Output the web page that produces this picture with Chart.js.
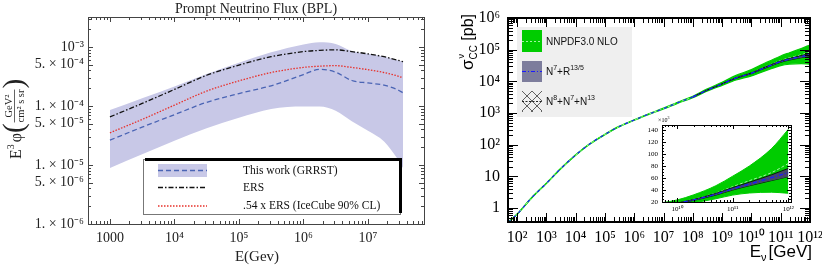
<!DOCTYPE html>
<html>
<head>
<meta charset="utf-8">
<script src="https://cdn.jsdelivr.net/npm/chart.js@4/dist/chart.umd.min.js"></script>
<style>
html, body { margin: 0; padding: 0; background: #fff; width: 822px; height: 269px; overflow: hidden; }
canvas { position: absolute; }
#flux { left: 0; top: 0; }
#xsec { left: 430px; top: 0; }
#inset { left: 630px; top: 110px; }
</style>
</head>
<body>
<canvas id="flux" width="430" height="269"></canvas>
<canvas id="xsec" width="392" height="269"></canvas>
<canvas id="inset" width="170" height="110"></canvas>
<script>
// left panel: prompt flux, E^3 phi in GeV^2 / (cm^2 s sr)
const fluxE = [1e3, 3.16e3, 1e4, 3.16e4, 1e5, 3.16e5, 1e6, 1.78e6, 3.16e6, 5.62e6, 1e7, 1.78e7, 2.8e7, 3.5e7]
const grrst = [2.63e-5, 4.37e-5, 7.1e-5, 1.15e-4, 1.62e-4, 2.19e-4, 3.39e-4, 4.17e-4, 3.72e-4, 2.69e-4, 2.45e-4, 2.24e-4, 1.9e-4, 1.66e-4]
const grrstLow = [8.9e-6, 1.51e-5, 2.57e-5, 4.17e-5, 6.3e-5, 8.9e-5, 9.8e-5, 9.8e-5, 8.3e-5, 5.5e-5, 3.8e-5, 2.5e-5, 1.32e-5, 8.9e-6]
const grrstHigh = [8.5e-5, 1.35e-4, 2.14e-4, 3.47e-4, 5.4e-4, 8.1e-4, 1.1e-3, 1.2e-3, 1.12e-3, 8.5e-4, 7.6e-4, 6.8e-4, 6.0e-4, 5.6e-4]
const ers = [6.5e-5, 1.1e-4, 1.9e-4, 3.3e-4, 4.9e-4, 6.8e-4, 8.3e-4, 8.7e-4, 8.9e-4, 8.3e-4, 7.6e-4, 6.8e-4, 6.0e-4, 5.6e-4]
const ersIceCube = [3.5e-5, 5.9e-5, 1.03e-4, 1.78e-4, 2.65e-4, 3.67e-4, 4.48e-4, 4.7e-4, 4.8e-4, 4.48e-4, 4.1e-4, 3.67e-4, 3.24e-4, 3.0e-4]
const fluxXTicks = [1e3, 1e4, 1e5, 1e6, 1e7]
const fluxXLabels = ['1000', '10⁴', '10⁵', '10⁶', '10⁷']
const fluxYTicks = [1e-6, 5e-6, 1e-5, 5e-5, 1e-4, 5e-4, 1e-3]
const fluxYLabels = ['1. × 10⁻⁶', '5. × 10⁻⁶', '1. × 10⁻⁵', '5. × 10⁻⁵', '1. × 10⁻⁴', '5. × 10⁻⁴', '10⁻³']

// right panel: nu CC cross section in pb
const xsE = [5e1, 1e2, 3e2, 1e3, 3e3, 1e4, 3e4, 1e5, 3e5, 1e6, 3e6, 1e7, 3e7, 1e8, 3e8, 1e9, 3e9, 1e10, 2e10, 5e10, 1e11, 2e11, 5e11, 1e12]
const nnpdf = [0.35, 0.63, 2.0, 6.0, 17, 47, 105, 210, 370, 600, 910, 1380, 2100, 3200, 5200, 8300, 13000, 18500, 24500, 35000, 45500, 55500, 69000, 84000]
const nnpdfLow = [0.343, 0.617, 1.96, 5.88, 16.7, 46, 103, 206, 363, 588, 892, 1340, 2020, 3040, 4840, 7470, 11000, 14800, 18800, 25400, 31500, 35000, 36300, 34500]
const nnpdfHigh = [0.36, 0.645, 2.04, 6.12, 17.3, 48, 107, 214, 378, 612, 930, 1420, 2190, 3390, 5670, 9380, 15400, 23400, 32000, 47200, 63000, 80000, 109000, 141000]
const n7E = [1e8, 3e8, 1e9, 3e9, 1e10, 2e10, 5e10, 1e11, 2e11, 5e11, 1e12]
const n7 = [3200, 5200, 8300, 12800, 18000, 23500, 33000, 42000, 50000, 60500, 69000]
const n7Low = [3168, 5140, 8180, 12500, 17460, 22680, 31520, 39900, 47000, 55660, 62100]
const n7High = [3232, 5260, 8420, 13100, 18540, 24320, 34490, 44100, 53000, 65340, 75900]
const xsXTicks = [1e2, 1e3, 1e4, 1e5, 1e6, 1e7, 1e8, 1e9, 1e10, 1e11, 1e12]
const xsXLabels = ['10²', '10³', '10⁴', '10⁵', '10⁶', '10⁷', '10⁸', '10⁹', '10¹⁰', '10¹¹', '10¹²']
const xsYTicks = [1, 10, 1e2, 1e3, 1e4, 1e5, 1e6]
const xsYLabels = ['1', '10', '10²', '10³', '10⁴', '10⁵', '10⁶']
const insetXTicks = [1e10, 1e11, 1e12]
const insetXLabels = ['10¹⁰', '10¹¹', '10¹²']
const insetYTicks = [20000, 40000, 60000, 80000, 100000, 120000, 140000]
const insetYLabels = ['20', '40', '60', '80', '100', '120', '140']

const BAND = '#c8c8e7'
const GREEN = '#00cc00'

Chart.defaults.font.family = 'Liberation Serif'
Chart.defaults.color = '#222'

const pts = (xs, ys) => xs.map((x, i) => ({ x: x, y: ys[i] }))

function fixBox(w, h) {
    return s => {
        if (w) s.width = w
        if (h) s.height = h
        s.paddingLeft = s.paddingRight = s.paddingTop = s.paddingBottom = 0
    }
}

function setTicks(vals) {
    return s => { s.ticks = vals.map(v => ({ value: v })) }
}

function logMarks(min, max) {
    const major = [], minor = []
    for (let d = Math.floor(Math.log10(min)); d <= Math.ceil(Math.log10(max)); d++) {
        for (let m = 1; m < 10; m++) {
            const v = m * Math.pow(10, d)
            if (v < min * 0.999 || v > max * 1.001) continue
            ;(m === 1 ? major : minor).push(v)
        }
    }
    return { major, minor }
}

// frame with inward ticks on all four sides
function framePlugin(o) {
    return {
        id: 'frame',
        afterDatasetsDraw(chart) {
            const { ctx, chartArea: a, scales } = chart
            ctx.save()
            ctx.strokeStyle = o.color
            ctx.lineWidth = 1
            ctx.beginPath()
            const xt = (vals, len) => vals.forEach(v => {
                const p = Math.round(scales.x.getPixelForValue(v)) + 0.5
                ctx.moveTo(p, a.bottom); ctx.lineTo(p, a.bottom - len)
                ctx.moveTo(p, a.top); ctx.lineTo(p, a.top + len)
            })
            const yt = (vals, len) => vals.forEach(v => {
                const p = Math.round(scales.y.getPixelForValue(v)) + 0.5
                ctx.moveTo(a.left, p); ctx.lineTo(a.left + len, p)
                ctx.moveTo(a.right, p); ctx.lineTo(a.right - len, p)
            })
            xt(o.x.major, o.xLen[0]); xt(o.x.minor, o.xLen[1])
            yt(o.y.major, o.yLen[0]); yt(o.y.minor, o.yLen[1])
            ctx.stroke()
            ctx.lineWidth = o.width
            const h = o.width % 2 ? 0.5 : 0
            ctx.strokeRect(Math.round(a.left) + h, Math.round(a.top) + h, Math.round(a.right - a.left), Math.round(a.bottom - a.top))
            ctx.restore()
        }
    }
}

// draws a run of [text, font, dy, gap] pieces starting at x, returns end x
function run(ctx, pieces, x, y) {
    pieces.forEach(p => {
        ctx.font = p[1]
        ctx.fillText(p[0], x, y + (p[2] || 0))
        x += ctx.measureText(p[0]).width + (p[3] || 0)
    })
    return x
}
function runWidth(ctx, pieces) {
    return pieces.reduce((w, p) => { ctx.font = p[1]; return w + ctx.measureText(p[0]).width + (p[3] || 0) }, 0)
}

// ---------- left panel ----------
const fluxText = {
    id: 'fluxText',
    afterDraw(chart) {
        const ctx = chart.ctx
        ctx.save()
        ctx.fillStyle = '#222'
        ctx.textBaseline = 'alphabetic'
        ctx.textAlign = 'center'
        ctx.font = '14px "Liberation Serif"'
        ctx.fillText('Prompt Neutrino Flux (BPL)', 256, 12.5)
        ctx.font = '15px "Liberation Serif"'
        ctx.fillText('E(Gev)', 257, 261)

        // y title, rotated
        ctx.translate(16, 119)
        ctx.rotate(-Math.PI / 2)
        ctx.textAlign = 'left'
        const big = '29px "Liberation Serif"', sm = '10.5px "Liberation Serif"'
        ctx.font = sm
        const num = 'GeV²', den = 'cm² s sr'
        const fw = Math.max(ctx.measureText(num).width, ctx.measureText(den).width) + 2
        const head = [['E', '16px "Liberation Serif"', 5], ['3', '10px "Liberation Serif"', -2, 2], ['φ', '16px "Liberation Serif"', 5]]
        ctx.font = big
        const pw = ctx.measureText('(').width
        const total = runWidth(ctx, head) + 2 * pw + fw
        let u = run(ctx, head, -total / 2, 0)
        ctx.font = big
        ctx.fillText('(', u, 7)
        u += pw
        ctx.font = sm
        ctx.textAlign = 'center'
        ctx.fillText(num, u + fw / 2, -4)
        ctx.fillText(den, u + fw / 2, 8)
        ctx.fillRect(u + 1, -1.8, fw - 2, 0.7)
        ctx.textAlign = 'left'
        ctx.font = big
        ctx.fillText(')', u + fw, 7)
        ctx.restore()

        // legend with shadow bars
        ctx.save()
        ctx.fillStyle = '#fff'
        ctx.fillRect(143, 159, 257, 56)
        ctx.strokeStyle = '#777'
        ctx.lineWidth = 1
        ctx.strokeRect(143.5, 159.5, 257, 55)
        ctx.fillStyle = '#000'
        ctx.fillRect(145, 158, 257, 3)
        ctx.fillRect(399, 158, 3, 55)
        ctx.fillStyle = BAND
        ctx.fillRect(158, 164, 49, 13)
        const seg = (y, color, dash) => {
            ctx.beginPath()
            ctx.strokeStyle = color
            ctx.lineWidth = 1.3
            ctx.setLineDash(dash)
            ctx.moveTo(158, y); ctx.lineTo(207, y)
            ctx.stroke()
        }
        seg(170.5, '#4a64b4', [5, 3])
        seg(187.5, '#111', [5, 2, 1.5, 2])
        seg(206, '#e8302a', [1.5, 1.5])
        ctx.setLineDash([])
        ctx.fillStyle = '#111'
        ctx.font = '11.5px "Liberation Serif"'
        ctx.textBaseline = 'middle'
        ctx.fillText('This work (GRRST)', 243, 171)
        ctx.fillText('ERS', 243, 188)
        ctx.fillText('.54 x ERS (IceCube 90% CL)', 243, 206)
        ctx.restore()
    }
}

const fluxXMin = 457, fluxXMax = 7.4e7, fluxYMin = 1e-6, fluxYMax = 3.2e-3
const fxm = logMarks(fluxXMin, fluxXMax), fym = logMarks(fluxYMin, fluxYMax)

new Chart(document.getElementById('flux'), {
    type: 'line',
    data: {
        datasets: [
            { data: pts(fluxE, grrstHigh), fill: '+1', backgroundColor: BAND, borderWidth: 0, order: 5 },
            { data: pts(fluxE, grrstLow), fill: false, borderWidth: 0, order: 5 },
            { data: pts(fluxE, ers), borderColor: '#111', borderWidth: 1.3, borderDash: [5, 2, 1.5, 2], order: 1 },
            { data: pts(fluxE, ersIceCube), borderColor: '#e8302a', borderWidth: 1.3, borderDash: [1.5, 1.5], order: 1 },
            { data: pts(fluxE, grrst), borderColor: '#4a64b4', borderWidth: 1.3, borderDash: [5, 3], order: 0 }
        ]
    },
    options: {
        responsive: false,
        animation: false,
        layout: { padding: { top: 17, right: 6, left: 0, bottom: 0 } },
        elements: { point: { radius: 0 }, line: { cubicInterpolationMode: 'monotone' } },
        plugins: { legend: { display: false }, tooltip: { enabled: false } },
        scales: {
            x: {
                type: 'logarithmic', min: fluxXMin, max: fluxXMax,
                grid: { display: false, drawTicks: false }, border: { display: false },
                afterBuildTicks: setTicks(fluxXTicks), afterFit: fixBox(0, 45),
                ticks: { autoSkip: false, maxRotation: 0, padding: 6, font: { size: 14 }, callback: (v, i) => fluxXLabels[i] }
            },
            y: {
                type: 'logarithmic', min: fluxYMin, max: fluxYMax,
                grid: { display: false, drawTicks: false }, border: { display: false },
                afterBuildTicks: setTicks(fluxYTicks), afterFit: fixBox(88, 0),
                ticks: { autoSkip: false, padding: 4, font: { size: 14 }, callback: (v, i) => fluxYLabels[i] }
            }
        }
    },
    plugins: [
        framePlugin({ color: '#444', width: 1, x: fxm, y: { major: fluxYTicks, minor: fym.major.concat(fym.minor).filter(v => fluxYTicks.indexOf(v) < 0) }, xLen: [5, 3], yLen: [5, 3] }),
        fluxText
    ]
})

// ---------- right panel ----------
function xsSets(lw) {
    return [
        { data: pts(xsE, nnpdfHigh), fill: '+1', backgroundColor: GREEN, borderColor: GREEN, borderWidth: lw, order: 4 },
        { data: pts(xsE, nnpdfLow), fill: false, borderColor: GREEN, borderWidth: lw, order: 4 },
        { data: pts(xsE, nnpdf), borderColor: '#a0f5a0', borderWidth: 1, borderDash: [3, 2], order: 3 },
        { data: pts(n7E, n7High), fill: '+1', backgroundColor: '#45456a', borderColor: '#000', borderWidth: 0.8, order: 2 },
        { data: pts(n7E, n7Low), fill: false, borderColor: '#000', borderWidth: 0.8, order: 2 },
        { data: pts(n7E, n7), borderColor: '#1a1aff', borderWidth: 1.4, borderDash: [4, 2, 1, 2], order: 0 },
        { data: pts(xsE.slice(0, 14), nnpdf.slice(0, 14)), borderColor: '#1a1aff', borderWidth: 1.2, borderDash: [3, 4], order: 0 }
    ]
}

const xsText = {
    id: 'xsText',
    afterDraw(chart) {
        const ctx = chart.ctx
        ctx.save()
        ctx.fillStyle = '#000'
        ctx.textBaseline = 'alphabetic'
        const sans = s => s + 'px "Liberation Sans"'
        // x title
        const xt = [['E', sans(17)], ['ν', sans(11), 4, 2], ['[GeV]', sans(17)]]
        run(ctx, xt, 382 - runWidth(ctx, xt), 257)
        // y title, rotated
        ctx.save()
        ctx.translate(43, 42)
        ctx.rotate(-Math.PI / 2)
        ctx.font = sans(17)
        const sw = ctx.measureText('σ').width
        ctx.font = sans(10)
        const cw = ctx.measureText('CC').width
        ctx.font = sans(16)
        const bw = ctx.measureText(' [pb]').width
        let u = -(sw + cw + bw) / 2
        ctx.font = sans(17); ctx.fillText('σ', u, 0); u += sw
        ctx.font = sans(9); ctx.fillText('ν', u + 1, -9)
        ctx.font = sans(10); ctx.fillText('CC', u, 4); u += cw
        ctx.font = sans(16); ctx.fillText(' [pb]', u, 0)
        ctx.restore()

        // legend
        ctx.fillStyle = '#efefef'
        ctx.fillRect(87, 27, 115, 90)
        ctx.fillStyle = GREEN
        ctx.fillRect(92, 30, 20, 22)
        ctx.fillStyle = '#7d7d9c'
        ctx.fillRect(92, 61, 20, 21)
        ctx.lineWidth = 1
        ctx.strokeStyle = '#a0f5a0'
        ctx.setLineDash([2, 2])
        ctx.beginPath(); ctx.moveTo(92, 41.5); ctx.lineTo(112, 41.5); ctx.stroke()
        ctx.strokeStyle = '#1a1aff'
        ctx.setLineDash([4, 2, 1, 2])
        ctx.beginPath(); ctx.moveTo(92, 71.5); ctx.lineTo(112, 71.5); ctx.stroke()
        // hatched cross symbol
        ctx.save()
        ctx.beginPath(); ctx.rect(92, 91, 20, 21); ctx.clip()
        ctx.setLineDash([])
        ctx.strokeStyle = '#222'
        ctx.lineWidth = 0.7
        ctx.beginPath()
        for (let k = -20; k <= 20; k += 10) {
            ctx.moveTo(92 + k, 91); ctx.lineTo(113 + k, 112)
            ctx.moveTo(112 - k, 91); ctx.lineTo(91 - k, 112)
        }
        ctx.stroke()
        ctx.setLineDash([2, 1.5])
        ctx.lineWidth = 1
        ctx.beginPath(); ctx.moveTo(92, 101.5); ctx.lineTo(112, 101.5); ctx.stroke()
        ctx.restore()
        ctx.setLineDash([])
        ctx.fillStyle = '#111'
        ctx.textBaseline = 'middle'
        run(ctx, [['NNPDF3.0 NLO', sans(10)]], 116, 42)
        run(ctx, [['N', sans(10)], ['7', sans(7), -4], ['+R', sans(10)], ['13/5', sans(7), -4]], 116, 72)
        run(ctx, [['N', sans(10)], ['8', sans(7), -4], ['+N', sans(10)], ['7', sans(7), -4], ['+N', sans(10)], ['13', sans(7), -4]], 116, 102)
        ctx.restore()
    }
}

const xsXMin = 49, xsXMax = 1e12, xsYMin = 0.361, xsYMax = 1e6

new Chart(document.getElementById('xsec'), {
    type: 'line',
    data: { datasets: xsSets(1.2) },
    options: {
        responsive: false,
        animation: false,
        layout: { padding: { top: 18, right: 12, left: 0, bottom: 0 } },
        elements: { point: { radius: 0 }, line: { cubicInterpolationMode: 'monotone' } },
        plugins: { legend: { display: false }, tooltip: { enabled: false } },
        scales: {
            x: {
                type: 'logarithmic', min: xsXMin, max: xsXMax,
                grid: { display: false, drawTicks: false }, border: { display: false },
                afterBuildTicks: setTicks(xsXTicks), afterFit: fixBox(0, 47),
                ticks: { autoSkip: false, maxRotation: 0, padding: 6, color: '#000', font: { size: 16 }, callback: (v, i) => xsXLabels[i] }
            },
            y: {
                type: 'logarithmic', min: xsYMin, max: xsYMax,
                grid: { display: false, drawTicks: false }, border: { display: false },
                afterBuildTicks: setTicks(xsYTicks), afterFit: fixBox(78, 0),
                ticks: { autoSkip: false, padding: 8, color: '#000', font: { size: 16 }, callback: (v, i) => xsYLabels[i] }
            }
        }
    },
    plugins: [
        framePlugin({ color: '#000', width: 2, x: logMarks(xsXMin, xsXMax), y: logMarks(xsYMin, xsYMax), xLen: [9, 5], yLen: [10, 5] }),
        xsText
    ]
})

// ---------- inset ----------
const insetXMin = 5.37e9, insetXMax = 1.12e12, insetYMin = 20000, insetYMax = 148300
const insetYMinor = []
for (let v = insetYMin; v <= insetYMax; v += 5000) insetYMinor.push(v)

new Chart(document.getElementById('inset'), {
    type: 'line',
    data: { datasets: xsSets(1) },
    options: {
        responsive: false,
        animation: false,
        layout: { padding: { top: 15, right: 9, left: 0, bottom: 0 } },
        elements: { point: { radius: 0 }, line: { cubicInterpolationMode: 'monotone' } },
        plugins: { legend: { display: false }, tooltip: { enabled: false } },
        scales: {
            x: {
                type: 'logarithmic', min: insetXMin, max: insetXMax,
                grid: { display: false, drawTicks: false }, border: { display: false },
                afterBuildTicks: setTicks(insetXTicks), afterFit: fixBox(0, 18),
                ticks: { autoSkip: false, maxRotation: 0, padding: 3, color: '#000', font: { size: 7 }, callback: (v, i) => insetXLabels[i] }
            },
            y: {
                type: 'linear', min: insetYMin, max: insetYMax,
                grid: { display: false, drawTicks: false }, border: { display: false },
                afterBuildTicks: setTicks(insetYTicks), afterFit: fixBox(32, 0),
                ticks: { autoSkip: false, padding: 4, color: '#000', font: { size: 7 }, callback: (v, i) => insetYLabels[i] }
            }
        }
    },
    plugins: [
        {
            id: 'insetBg',
            beforeDatasetsDraw(chart) {
                const { ctx, chartArea: a } = chart
                ctx.save()
                ctx.fillStyle = '#fff'
                ctx.fillRect(a.left, a.top, a.right - a.left, a.bottom - a.top)
                ctx.restore()
            },
            afterDraw(chart) {
                const ctx = chart.ctx
                ctx.save()
                ctx.fillStyle = '#000'
                run(ctx, [['×10', '6px "Liberation Serif"'], ['3', '4px "Liberation Serif"', -3]], 28, 12)
                ctx.restore()
            }
        },
        framePlugin({ color: '#000', width: 1, x: logMarks(insetXMin, insetXMax), y: { major: insetYTicks, minor: insetYMinor }, xLen: [4, 2], yLen: [4, 2] })
    ]
})
</script>
</body>
</html>
